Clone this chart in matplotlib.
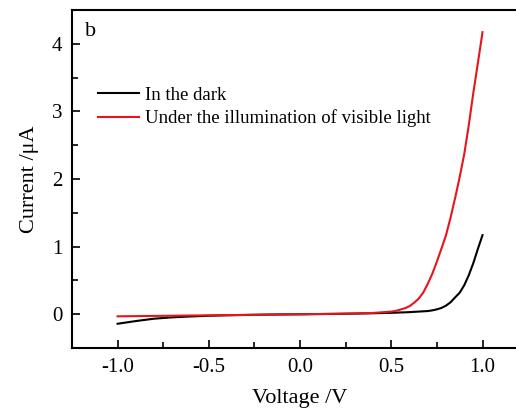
import matplotlib
matplotlib.use('Agg')
import matplotlib.pyplot as plt
from matplotlib.ticker import MultipleLocator

plt.rcParams['font.family'] = 'Liberation Serif'

# I-V data, voltage in V, current in uA
voltage = [-1.0, -0.9, -0.8, -0.7, -0.6, -0.5, -0.4, -0.3, -0.2, -0.1, 0.0,
           0.1, 0.2, 0.3, 0.4, 0.5, 0.525, 0.55, 0.575, 0.6, 0.625, 0.65,
           0.675, 0.7, 0.725, 0.75, 0.775, 0.8, 0.825, 0.85, 0.875, 0.9,
           0.925, 0.95, 0.975, 1.0]
current_dark = [-0.14, -0.10, -0.065, -0.045, -0.032, -0.022, -0.015, -0.010,
                -0.005, -0.002, 0.0, 0.003, 0.006, 0.010, 0.015, 0.022, 0.024,
                0.027, 0.029, 0.032, 0.036, 0.040, 0.044, 0.048, 0.058, 0.073,
                0.094, 0.128, 0.178, 0.25, 0.32, 0.43, 0.58, 0.76, 0.97, 1.17]
current_light = [-0.03, -0.027, -0.024, -0.021, -0.018, -0.015, -0.012, -0.009,
                 -0.006, -0.003, 0.0, 0.004, 0.008, 0.013, 0.02, 0.04, 0.05,
                 0.07, 0.09, 0.12, 0.17, 0.23, 0.32, 0.45, 0.60, 0.78, 0.97,
                 1.17, 1.43, 1.72, 2.03, 2.37, 2.80, 3.28, 3.72, 4.17]

labels = ['In the dark', 'Under the illumination of visible light']

fig = plt.figure(figsize=(5.16, 4.11), dpi=100)
ax = fig.add_axes([0.1395, 0.153, 0.884, 0.823])

ax.plot(voltage, current_dark, color='black', lw=1.5, label=labels[0])
ax.plot(voltage, current_light, color='#e8141c', lw=1.5, label=labels[1])

ax.set_xlim(-1.25, 1.25)
ax.set_ylim(-0.5, 4.5)
ax.xaxis.set_minor_locator(MultipleLocator(0.25))
ax.yaxis.set_major_locator(MultipleLocator(1))
ax.yaxis.set_minor_locator(MultipleLocator(0.5))
ax.set_xticks([-1.0, -0.5, 0.0, 0.5, 1.0])
ax.set_xticklabels(['-1.0', '-0.5', '0.0', '0.5', '1.0'])
ax.tick_params(which='major', direction='in', length=6, width=1.2,
               labelsize=15, pad=7)
ax.tick_params(which='minor', direction='in', length=4, width=1.2)
for s in ax.spines.values():
    s.set_linewidth(1.5)

ax.set_xlabel('Voltage /V', fontsize=16, labelpad=9)
ax.set_ylabel('Current /\u03bcA', fontsize=16, labelpad=9)

ax.text(0.028, 0.965, 'b', transform=ax.transAxes, fontsize=16,
        va='top', ha='left')

ax.legend(loc='upper left', bbox_to_anchor=(0.041, 0.795), frameon=False,
          fontsize=13.5, handlelength=2.2, handletextpad=0.3,
          labelspacing=0.3, borderaxespad=0.0)

fig.savefig('out.png', dpi=100)
